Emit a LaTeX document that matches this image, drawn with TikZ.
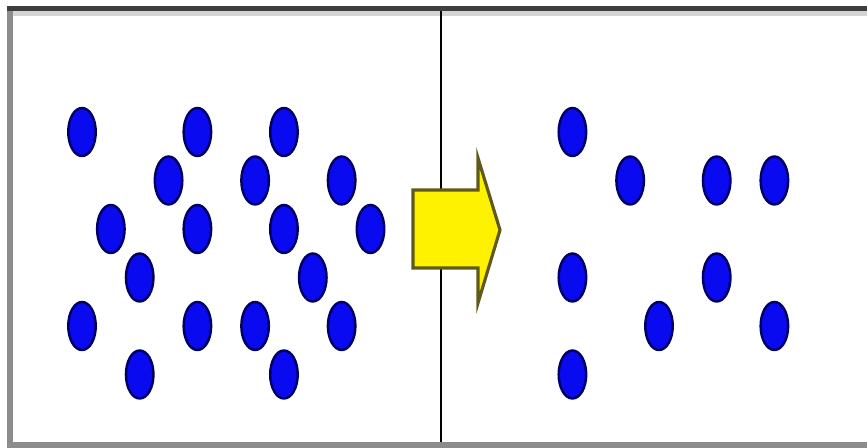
\documentclass[tikz,border=0pt]{standalone}
\usepackage{xcolor}
\usepackage{tikz}
\usetikzlibrary{shapes.geometric}

\definecolor{dotblue}{RGB}{10,10,240}
\definecolor{dotedge}{RGB}{0,0,100}
\definecolor{arrowedge}{RGB}{95,90,25}
\definecolor{framedark}{RGB}{62,62,62}
\definecolor{framegray}{RGB}{140,140,140}
\definecolor{framelight}{RGB}{212,212,212}

\begin{document}
\begin{tikzpicture}[
  x=0.02cm, y=-0.02cm,
  dot/.style={ellipse, draw=dotedge, fill=dotblue, line width=1.4pt,
              minimum width=0.55cm, minimum height=0.96cm, inner sep=0pt},
  rim/.style={line width=0.11cm}
]
\useasboundingbox (0,0) rectangle (867,448);

% frame of the slide
\draw[rim, framelight] (13,13.5) -- (867,13.5);
\draw[rim, framedark] (7,8.5) -- (867,8.5);
\draw[rim, framegray] (10,11) -- (10,448);
\draw[rim, framegray] (7,445) -- (867,445);

% divider between the two panels
\draw[line width=1.2pt, black] (441,11) -- (441,442);

% yellow block arrow
\filldraw[fill=yellow, draw=arrowedge, line width=1.8pt]
  (413,190) -- (478,190) -- (478,158) -- (500,230) -- (478,303)
  -- (478,268) -- (413,268) -- cycle;

% dots before (left panel)
\foreach \c/\r in {0/0,4/0,7/0,3/1,6/1,9/1,1/2,4/2,7/2,10/2,
                   2/3,8/3,0/4,4/4,6/4,9/4,2/5,7/5}
  \node[dot] (l\c-\r) at ({82+28.85*\c},{132+48.5*\r}) {};

% dots after (right panel)
\foreach \c/\r in {17/0,19/1,22/1,24/1,17/3,22/3,20/4,24/4,17/5}
  \node[dot] (r\c-\r) at ({82+28.85*\c},{132+48.5*\r}) {};
\end{tikzpicture}
\end{document}
